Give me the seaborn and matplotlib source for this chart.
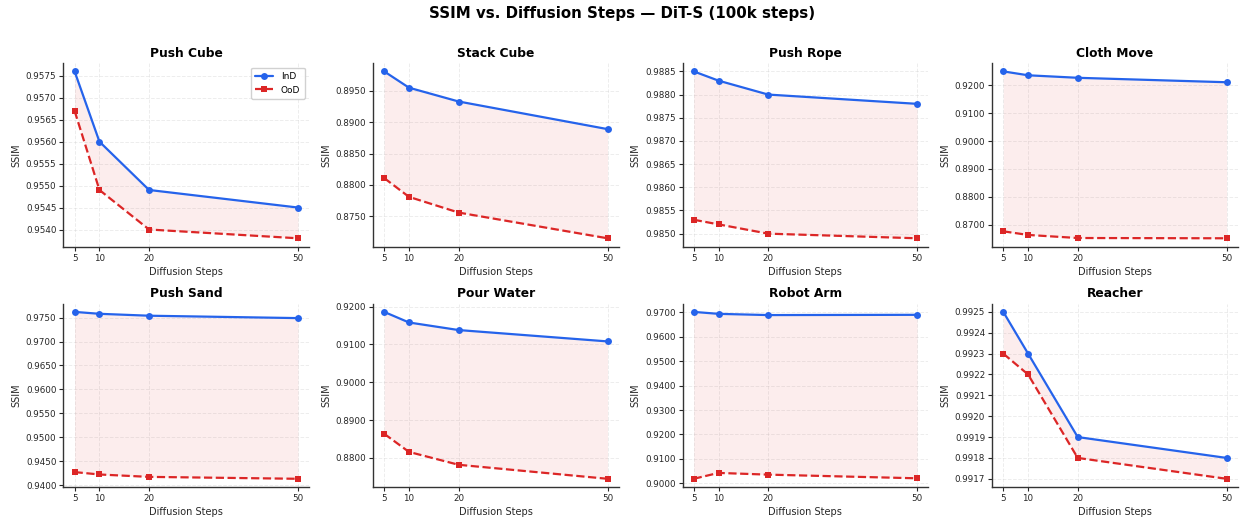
import numpy as np
import pandas as pd
import matplotlib
matplotlib.use("Agg")
import matplotlib.pyplot as plt
import seaborn as sns
from matplotlib.ticker import FormatStrFormatter, MaxNLocator

steps = [5, 10, 20, 50]
tasks = ["Push Cube", "Stack Cube", "Push Rope", "Cloth Move",
         "Push Sand", "Pour Water", "Robot Arm", "Reacher"]
ind_push_cube = [0.9576, 0.9560, 0.9549, 0.9545]
ood_push_cube = [0.9567, 0.9549, 0.9540, 0.9538]
ind_stack_cube = [0.8981, 0.8955, 0.8933, 0.8889]
ood_stack_cube = [0.8811, 0.8781, 0.8756, 0.8715]
ind_push_rope = [0.9885, 0.9883, 0.9880, 0.9878]
ood_push_rope = [0.9853, 0.9852, 0.9850, 0.9849]
ind_cloth_move = [0.9250, 0.9236, 0.9227, 0.9211]
ood_cloth_move = [0.8676, 0.8663, 0.8652, 0.8651]
ind_push_sand = [0.9762, 0.9758, 0.9754, 0.9749]
ood_push_sand = [0.9427, 0.9422, 0.9417, 0.9413]
ind_pour_water = [0.9186, 0.9158, 0.9138, 0.9108]
ood_pour_water = [0.8864, 0.8816, 0.8782, 0.8745]
ind_robot_arm = [0.9701, 0.9693, 0.9688, 0.9689]
ood_robot_arm = [0.9019, 0.9043, 0.9036, 0.9021]
ind_reacher = [0.9925, 0.9923, 0.9919, 0.9918]
ood_reacher = [0.9923, 0.9922, 0.9918, 0.9917]

ind_all = [ind_push_cube, ind_stack_cube, ind_push_rope, ind_cloth_move,
           ind_push_sand, ind_pour_water, ind_robot_arm, ind_reacher]
ood_all = [ood_push_cube, ood_stack_cube, ood_push_rope, ood_cloth_move,
           ood_push_sand, ood_pour_water, ood_robot_arm, ood_reacher]

sns.set_theme(style="ticks")
plt.rcParams['font.family'] = ['DejaVu Sans']
plt.rcParams['text.color'] = 'black'
plt.rcParams['axes.titlecolor'] = 'black'

BLUE = "#2563eb"
RED = "#dc2626"

fig, axes = plt.subplots(2, 4, figsize=(12.44, 5.21), dpi=100)
fig.subplots_adjust(left=0.051, right=0.995, top=0.879, bottom=0.065,
                    wspace=0.26, hspace=0.31)

for i, ax in enumerate(axes.flat):
    ind = ind_all[i]
    ood = ood_all[i]
    ax.fill_between(steps, ind, ood, color=RED, alpha=0.08, linewidth=0, zorder=1)
    sns.lineplot(x=steps, y=ind, ax=ax, color=BLUE, marker='o', markersize=5,
                 markeredgewidth=0, linewidth=1.6, label="InD", zorder=3)
    sns.lineplot(x=steps, y=ood, ax=ax, color=RED, marker='s', markersize=5,
                 markeredgewidth=0, linewidth=1.6, linestyle='--', label="OoD", zorder=3)
    ax.set_title(tasks[i], fontsize=8.8, fontweight='bold', pad=4.5)
    ax.set_xlabel("Diffusion Steps", fontsize=7.0, labelpad=3)
    ax.set_ylabel("SSIM", fontsize=7.0, labelpad=3)
    ax.set_xticks(steps)
    ax.yaxis.set_major_locator(MaxNLocator(nbins=9, steps=[1, 2, 2.5, 5, 10]))
    ax.tick_params(axis='both', labelsize=6.3, length=3, width=0.8, pad=2)
    ax.yaxis.set_major_formatter(FormatStrFormatter('%.4f'))
    ax.grid(True, linestyle='--', linewidth=0.7, alpha=0.35)
    sns.despine(ax=ax)
    for s in ['left', 'bottom']:
        ax.spines[s].set_color('#333333')
        ax.spines[s].set_linewidth(1.0)
    if i == 0:
        ax.legend(loc='upper right', fontsize=6.5, frameon=True, framealpha=0.9,
                  handlelength=2.0, borderpad=0.5, labelspacing=0.5)
    else:
        leg = ax.get_legend()
        if leg is not None:
            leg.remove()

fig.suptitle("SSIM vs. Diffusion Steps \u2014 DiT-S (100k steps)", fontsize=10.8,
             fontweight='bold', y=0.988)

fig.savefig("out.png", dpi=100)
